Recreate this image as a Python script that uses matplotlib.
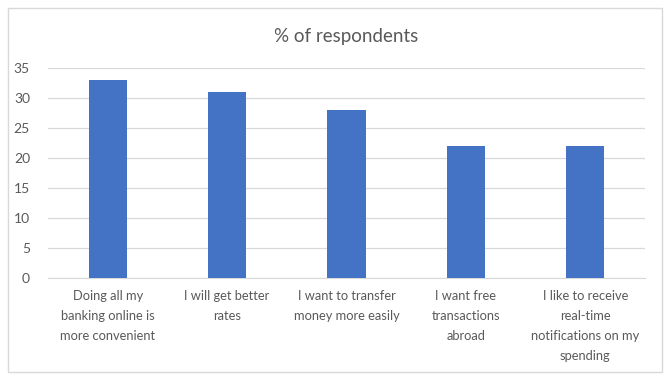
import matplotlib
matplotlib.use("Agg")
import matplotlib.pyplot as plt
from matplotlib.patches import Rectangle

categories = [
    "Doing all my\nbanking online is\nmore convenient",
    "I will get better\nrates",
    "I want to transfer\nmoney more easily",
    "I want free\ntransactions\nabroad",
    "I like to receive\nreal-time\nnotifications on my\nspending",
]
values = [33, 31, 28, 22, 22]
yticks = [0, 5, 10, 15, 20, 25, 30, 35]

plt.rcParams['font.family'] = ['Lato', 'DejaVu Sans']
fig = plt.figure(figsize=(6.72, 3.80), dpi=100)
fig.patches.append(Rectangle((8/672, 1-372/380), (662-8)/672, (372-8)/380,
                             transform=fig.transFigure, fill=False,
                             edgecolor='#d9d9d9', linewidth=1))
ax = fig.add_axes([48/672, 1-278/380, (645-48)/672, (278-68)/380])
x = range(len(categories))
ax.bar(x, values, width=0.32, color='#4472C4', zorder=3)
ax.set_xlim(-0.5, len(categories)-0.5)
ax.set_ylim(0, 35)
ax.set_yticks(yticks)
ax.set_yticklabels([str(v) for v in yticks])
ax.set_xticks(list(x))
ax.set_xticklabels(categories, linespacing=1.8, fontsize=9.3)
ax.grid(axis='y', color='#d9d9d9', linewidth=0.9, zorder=0)
for s in ['top', 'right', 'left']:
    ax.spines[s].set_visible(False)
ax.spines['bottom'].set_color('#d9d9d9')
ax.tick_params(axis='both', length=0, colors='#595959', labelsize=10)
ax.tick_params(axis='x', labelsize=9.3)
ax.tick_params(axis='y', pad=13)
ax.tick_params(axis='x', pad=9)
ax.set_title('% of respondents', fontsize=13.5, color='#595959', pad=19)
fig.savefig('out.png', dpi=100)
